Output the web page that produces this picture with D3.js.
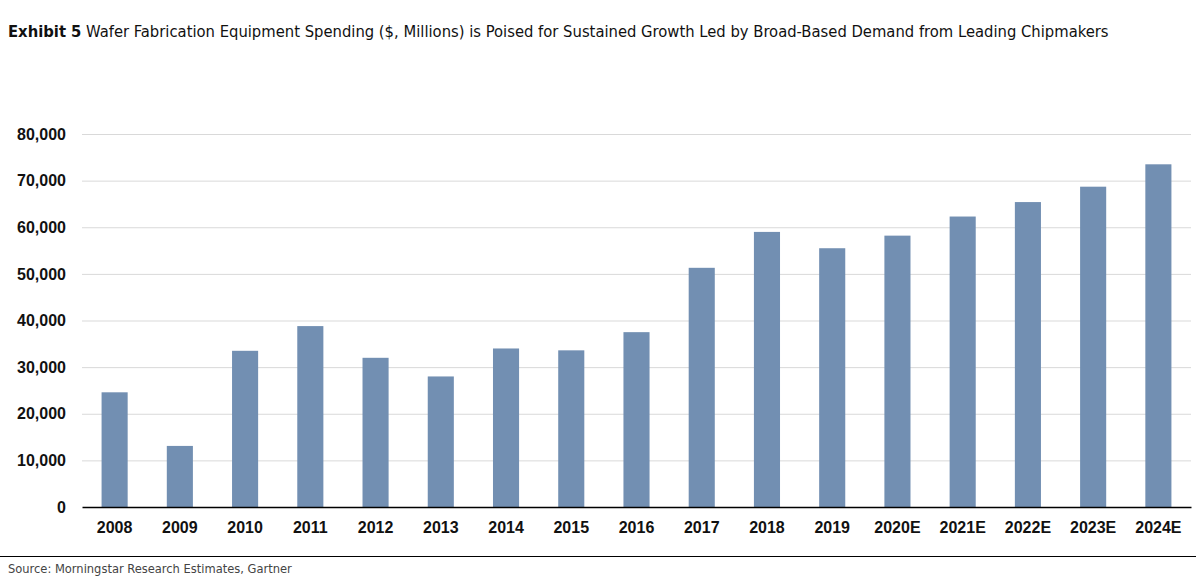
<!DOCTYPE html>
<html>
<head>
<meta charset="utf-8">
<script src="https://cdn.jsdelivr.net/npm/d3@7"></script>
<style>
  body { margin: 0; background: #fff; }
  svg { display: block; font-family: "Liberation Sans Narrow", "DejaVu Sans Condensed", "Roboto", sans-serif; }
</style>
</head>
<body>
<div id="chart"></div>
<script>
var years = ['2008', '2009', '2010', '2011', '2012', '2013', '2014', '2015', '2016',
  '2017', '2018', '2019', '2020E', '2021E', '2022E', '2023E', '2024E'];
var spending = [24600, 13100, 33500, 38800, 32000, 28000, 34000, 33600, 37500,
  51300, 59000, 55500, 58200, 62300, 65400, 68700, 73500];
var yTicks = [0, 10000, 20000, 30000, 40000, 50000, 60000, 70000, 80000];

var titleBold = 'Exhibit 5';
var titleRest = 'Wafer Fabrication Equipment Spending ($, Millions) is Poised for Sustained Growth Led by Broad-Based Demand from Leading Chipmakers';
var source = 'Source: Morningstar Research Estimates, Gartner';

var width = 1198, height = 583;
var margin = {top: 134, right: 7, bottom: 76, left: 82};

var svg = d3.select('#chart').append('svg')
  .attr('width', width)
  .attr('height', height);

// title: shrink the font until it fits the width the exhibit uses
var title = svg.append('text')
  .attr('x', 8)
  .attr('y', 37)
  .attr('font-size', 18)
  .attr('fill', '#111');
title.append('tspan').attr('font-weight', 'bold').text(titleBold);
title.append('tspan').text(' ' + titleRest);
var titleLen = title.node().getComputedTextLength();
if (titleLen > 1101) title.attr('font-size', 18 * 1101 / titleLen);

var x = d3.scaleBand()
  .domain(years)
  .range([margin.left, width - margin.right])
  .paddingInner(0.6)
  .paddingOuter(0.3);

var y = d3.scaleLinear()
  .domain([0, 80000])
  .range([height - margin.bottom, margin.top]);

// gridlines
svg.append('g')
  .selectAll('line')
  .data(yTicks.slice(1))
  .enter().append('line')
  .attr('x1', margin.left)
  .attr('x2', width - margin.right)
  .attr('y1', function(d) { return y(d) + 0.5; })
  .attr('y2', function(d) { return y(d) + 0.5; })
  .attr('stroke', '#d9d9d9')
  .attr('stroke-width', 1);

// y axis labels
var yAxis = d3.axisLeft(y)
  .tickValues(yTicks)
  .tickSize(0)
  .tickPadding(16)
  .tickFormat(d3.format(','));

svg.append('g')
  .attr('transform', 'translate(' + margin.left + ',0)')
  .call(yAxis)
  .call(function(g) { g.select('.domain').remove(); })
  .selectAll('text')
  .attr('font-family', null)
  .attr('font-size', 16)
  .attr('font-weight', 'bold')
  .attr('fill', '#111');

// bars
svg.append('g')
  .selectAll('rect')
  .data(spending)
  .enter().append('rect')
  .attr('x', function(d, i) { return x(years[i]); })
  .attr('width', x.bandwidth())
  .attr('y', function(d) { return y(d); })
  .attr('height', function(d) { return y(0) - y(d); })
  .attr('fill', '#728fb2');

// x axis
var xAxis = d3.axisBottom(x).tickSize(0).tickPadding(15);
var gx = svg.append('g')
  .attr('transform', 'translate(0,' + y(0) + ')')
  .call(xAxis);
gx.select('.domain').attr('stroke', '#000').attr('stroke-width', 1.5);
gx.selectAll('text')
  .attr('font-family', null)
  .attr('font-size', 16)
  .attr('font-weight', 'bold')
  .attr('fill', '#111');

// footer rule and source
svg.append('line')
  .attr('x1', 0).attr('x2', width - 2)
  .attr('y1', 556.5).attr('y2', 556.5)
  .attr('stroke', '#000').attr('stroke-width', 1.2);

var src = svg.append('text')
  .attr('x', 8)
  .attr('y', 573)
  .attr('font-size', 14)
  .attr('fill', '#444')
  .text(source);
var srcLen = src.node().getComputedTextLength();
if (srcLen > 284) src.attr('font-size', 14 * 284 / srcLen);
</script>
</body>
</html>
